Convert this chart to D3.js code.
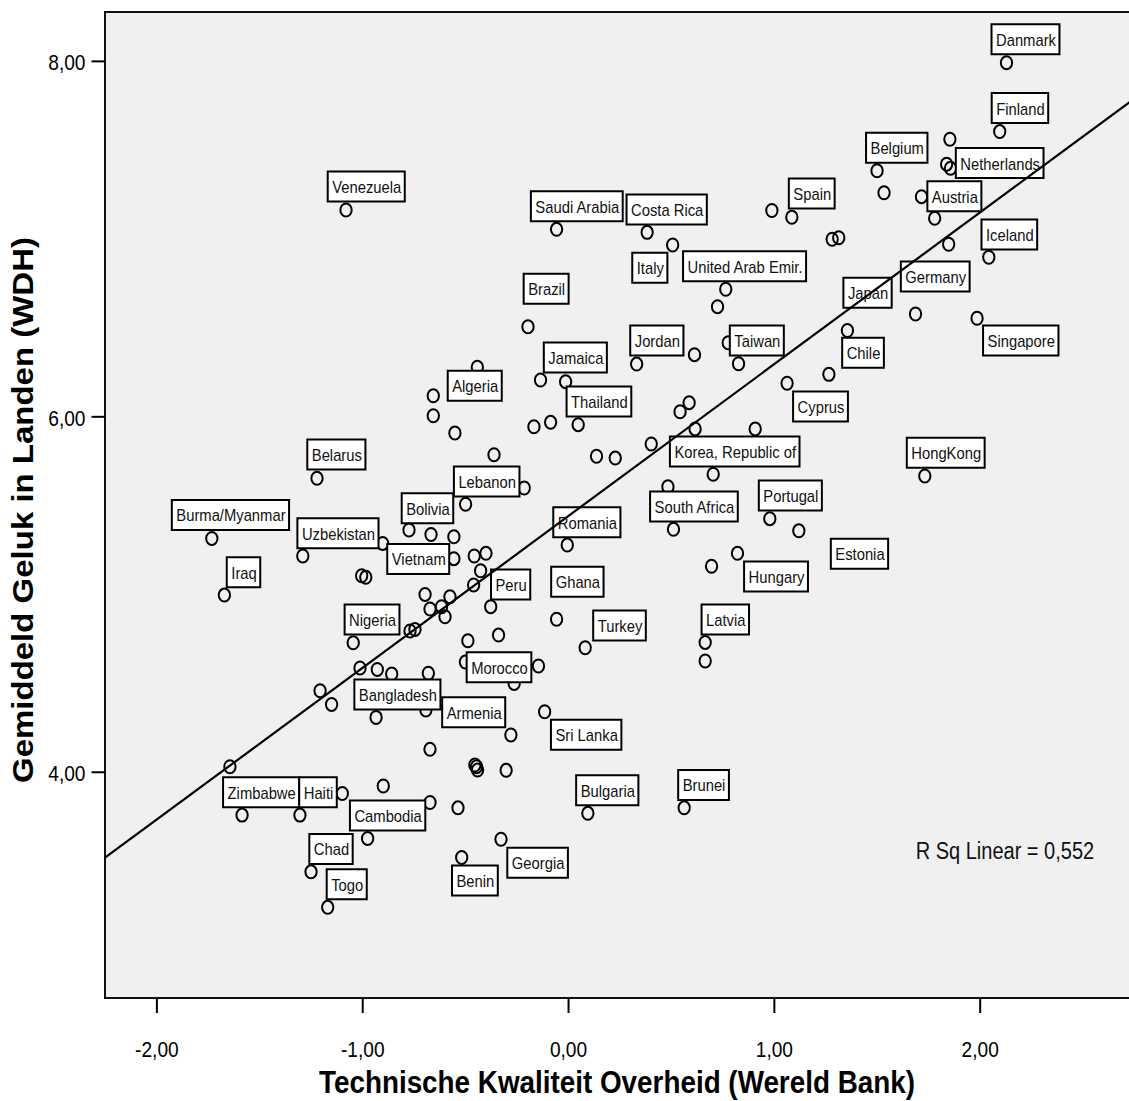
<!DOCTYPE html>
<html>
<head>
<meta charset="utf-8">
<script src="https://cdn.jsdelivr.net/npm/d3@7"></script>
<style>
  body { margin: 0; background: #fff; }
</style>
</head>
<body>
<div id="chart"></div>
<script>
// labelled countries (names as printed in the chart)
var labelNames = ["Danmark", "Finland", "Belgium", "Netherlands", "Austria", "Spain", "Iceland", "Germany",
    "Japan", "Singapore", "Chile", "Cyprus", "HongKong", "Korea, Republic of", "Portugal", "Estonia",
    "Hungary", "South Africa", "Latvia", "Brunei", "Bulgaria", "Sri Lanka", "Georgia", "Benin",
    "Armenia", "Morocco", "Peru", "Ghana", "Turkey", "Romania", "Lebanon", "Bolivia", "Vietnam",
    "Uzbekistan", "Burma/Myanmar", "Belarus", "Iraq", "Nigeria", "Bangladesh", "Zimbabwe", "Haiti",
    "Cambodia", "Chad", "Togo", "Venezuela", "Saudi Arabia", "Costa Rica", "Italy", "United Arab Emir.",
    "Brazil", "Jordan", "Taiwan", "Jamaica", "Thailand", "Algeria"];
var labelGov = [2.130, 2.097, 1.501, 1.858, 1.781, 1.087, 2.044, 1.688,
    1.357, 1.987, 1.267, 1.064, 1.733, 0.705, 0.980, 1.121,
    0.823, 0.512, 0.666, 0.564, 0.096, -0.114, -0.326, -0.517,
    -0.278, -0.144, -0.376, -0.056, 0.083, -0.004, -0.498, -0.773, -0.901,
    -1.289, -1.731, -1.220, -1.670, -1.044, -0.933, -1.584, -1.303,
    -0.974, -1.249, -1.168, -1.079, -0.056, 0.384, 0.508, 0.766,
    -0.195, 0.333, 0.828, -0.134, 0.049, -0.441];
var labelHappy = [7.99, 7.602, 7.382, 7.396, 7.114, 7.120, 6.895, 6.576,
    6.483, 6.552, 6.236, 6.186, 5.664, 5.674, 5.424, 5.356,
    5.229, 5.364, 4.728, 3.797, 3.766, 4.338, 3.620, 3.518,
    4.207, 4.595, 4.929, 4.858, 4.698, 5.276, 5.505, 5.360, 5.285,
    5.214, 5.313, 5.651, 4.994, 4.726, 4.306, 3.756, 3.756,
    3.625, 3.437, 3.237, 7.161, 7.052, 7.035, 6.964, 6.715,
    6.504, 6.294, 6.296, 6.204, 5.953, 6.276];

// countries without a label
var otherGov = [1.839, 1.855, 1.535, 1.717, 0.990, 1.283, 1.315, 1.849, 0.614, 0.778, 0.726, -0.012,
    -0.655, -0.655, -0.166, -0.085, -0.550, 0.544, 0.588, 0.617, 0.909, 0.404, -0.360, 0.138,
    0.229, -0.213, 0.485, -0.666, -0.555, -0.555, -0.456, -0.399, -0.425, -0.459, -0.574, -0.615,
    -0.598, -0.671, -0.695, -0.487, -0.338, -0.499, -0.262, -0.453, -0.440, -0.445, -0.301, -0.671,
    -0.535, 0.697, 0.666, -0.744, -1.003, -0.983, -0.768, -0.744, -1.011, -0.927, -0.857, -0.679,
    -1.205, -1.149, -0.691, -0.671, -1.643, -0.898, -1.097];
var otherHappy = [7.419, 7.559, 7.258, 7.236, 7.158, 6.996, 7.005, 6.968, 6.347, 6.414, 6.617, 6.195,
    6.116, 6.003, 5.941, 5.966, 5.906, 6.026, 6.077, 5.929, 5.929, 5.844, 5.784, 5.775,
    5.765, 5.597, 5.604, 5.335, 5.322, 5.199, 5.214, 5.229, 5.131, 5.051, 4.985, 4.929,
    4.872, 4.916, 4.998, 4.737, 4.769, 4.617, 4.497, 4.038, 4.010, 4.028, 4.008, 3.827,
    3.797, 5.156, 4.623, 5.444, 5.103, 5.094, 4.792, 4.801, 4.584, 4.576, 4.550, 4.554,
    4.456, 4.379, 4.347, 4.126, 4.028, 3.920, 3.878];

// linear fit as drawn
var fitIntercept = 5.438, fitSlope = 0.854;
var rSqText = "R Sq Linear = 0,552";

var xTicks = [-2, -1, 0, 1, 2];
var yTicks = [4, 6, 8];
var xDomain = [-2.25, 2.73];
var yDomain = [2.727, 8.275];
var xTitle = "Technische Kwaliteit Overheid (Wereld Bank)";
var yTitle = "Gemiddeld Geluk in Landen (WDH)";

// where each label box sits relative to its point (left, top in px)
var labelOffsets = {
    "Danmark": [-15, -39], "Finland": [-8, -39], "Belgium": [-11, -38.4], "Netherlands": [5.3, -20.6],
    "Austria": [-7.3, -37.6], "Spain": [-3, -39.3], "Iceland": [-7.3, -38.3], "Germany": [-14.7, -53],
    "Japan": [-4, -53.2], "Singapore": [6, 6.7], "Chile": [13.3, -37], "Cyprus": [6, 7.7],
    "HongKong": [-18, -38.7], "Korea, Republic of": [-43.3, -38.3], "Portugal": [-11, -38.6],
    "Estonia": [32, 7.6], "Hungary": [6.6, 7.7], "South Africa": [-23.4, -38.3], "Latvia": [-3.6, -38.3],
    "Brunei": [-6, -38.4], "Bulgaria": [-11.7, -38.6], "Sri Lanka": [6.3, 7.6], "Georgia": [6.3, 8],
    "Benin": [-9.7, 7.7], "Armenia": [-68.7, -38.3], "Morocco": [-71.8, -14.3], "Peru": [0.3, -37.7],
    "Ghana": [-5.4, -53], "Turkey": [8, -37.7], "Romania": [-14, -38.3], "Lebanon": [-11.7, -38.3],
    "Bolivia": [-7.3, -37.3], "Vietnam": [4.6, 0], "Uzbekistan": [-5.4, -38.3], "Burma/Myanmar": [-40, -39],
    "Belarus": [-9.7, -39.3], "Iraq": [2.4, -38.3], "Nigeria": [-8.6, -38.7], "Bangladesh": [-21.7, -38.3],
    "Zimbabwe": [-19, -38.3], "Haiti": [-0.7, -38.3], "Cambodia": [-17.7, -38.3], "Chad": [-1.7, -38.4],
    "Togo": [-1, -38.6], "Venezuela": [-18.3, -39], "Saudi Arabia": [-25.7, -38.6], "Costa Rica": [-20.6, -38.3],
    "Italy": [-40.4, 7.3], "United Arab Emir.": [-42.7, -38.6], "Brazil": [-4.3, -53.4], "Jordan": [-6.4, -39],
    "Taiwan": [-8.7, -38.7], "Jamaica": [3.3, -38], "Thailand": [-11.6, -38.7], "Algeria": [-29.6, 3]
};

var FONT = "'Liberation Sans', Arial, Helvetica, sans-serif";
var W = 1129, H = 1101;
var k = 0.87; // the original picture is squeezed horizontally
var plot = {left: 105, right: 1130, top: 12, bottom: 998};

var svg = d3.select("#chart").append("svg")
    .attr("width", W)
    .attr("height", H);

var g = svg.append("g")
    .attr("transform", "scale(" + k + ",1)")
    .attr("font-family", FONT);

var x = d3.scaleLinear().domain(xDomain).range([plot.left / k, plot.right / k]),
    y = d3.scaleLinear().domain(yDomain).range([plot.bottom, plot.top]);

var fmt = d3.formatLocale({decimal: ",", thousands: ".", grouping: [3], currency: ["", ""], minus: "-"}).format(".2f");

var points = [];
labelNames.forEach(function (n, i) {
    points.push({name: n, x: labelGov[i], y: labelHappy[i]});
});
otherGov.forEach(function (v, i) {
    points.push({name: "", x: v, y: otherHappy[i]});
});

// plot background
g.append("rect")
    .attr("x", plot.left / k)
    .attr("y", plot.top)
    .attr("width", (plot.right - plot.left) / k)
    .attr("height", plot.bottom - plot.top)
    .attr("fill", "#f0f0f0")
    .attr("stroke", "#111")
    .attr("stroke-width", 2)
    .attr("vector-effect", "non-scaling-stroke");

// axes
var yAxis = g.append("g")
    .attr("transform", "translate(" + plot.left / k + ",0)")
    .call(d3.axisLeft(y).tickValues(yTicks).tickFormat(fmt).tickSize(13.5 / k).tickPadding(6 / k));
yAxis.select(".domain").remove();
yAxis.attr("font-family", FONT).attr("font-size", 22);
yAxis.selectAll("line").attr("stroke", "#000").attr("stroke-width", 2).attr("vector-effect", "non-scaling-stroke");
yAxis.selectAll("text").attr("fill", "#000").attr("dy", 9);

var xAxis = g.append("g")
    .attr("transform", "translate(0," + plot.bottom + ")")
    .call(d3.axisBottom(x).tickValues(xTicks).tickFormat(fmt).tickSize(15));
xAxis.select(".domain").remove();
xAxis.attr("font-family", FONT).attr("font-size", 22);
xAxis.selectAll("line").attr("stroke", "#000").attr("stroke-width", 2).attr("vector-effect", "non-scaling-stroke");
xAxis.selectAll("text").attr("fill", "#000").attr("y", 59).attr("dy", 0);

// points
g.append("g")
    .selectAll("circle")
    .data(points)
    .join("circle")
    .attr("cx", function (d) { return x(d.x); })
    .attr("cy", function (d) { return y(d.y); })
    .attr("r", 6.5)
    .attr("fill", "none")
    .attr("stroke", "#000")
    .attr("stroke-width", 2)
    .attr("vector-effect", "non-scaling-stroke");

// label boxes
var lab = g.append("g")
    .selectAll("g")
    .data(points.filter(function (d) { return d.name; }))
    .join("g")
    .attr("transform", function (d) {
        var o = labelOffsets[d.name];
        return "translate(" + (x(d.x) + o[0] / k) + "," + (y(d.y) + o[1]) + ")";
    });

lab.append("rect")
    .attr("x", 0)
    .attr("y", 0.5)
    .attr("height", 30)
    .attr("fill", "#fff")
    .attr("stroke", "#000")
    .attr("stroke-width", 2)
    .attr("vector-effect", "non-scaling-stroke");

lab.append("text")
    .attr("x", 4.5 / k)
    .attr("y", 22)
    .attr("font-size", 17)
    .attr("fill", "#111")
    .text(function (d) { return d.name; });

lab.each(function () {
    var w = d3.select(this).select("text").node().getComputedTextLength();
    d3.select(this).select("rect").attr("width", w + 8 / k);
});

// regression line
var fit = xDomain.map(function (v) { return [v, fitIntercept + fitSlope * v]; });
g.append("path")
    .datum(fit)
    .attr("d", d3.line().x(function (d) { return x(d[0]); }).y(function (d) { return y(d[1]); }))
    .attr("fill", "none")
    .attr("stroke", "#000")
    .attr("stroke-width", 2.2)
    .attr("vector-effect", "non-scaling-stroke");

g.append("text")
    .attr("x", 915.7 / k)
    .attr("y", 859)
    .attr("font-size", 23)
    .attr("fill", "#111")
    .text(rSqText);

// axis titles
g.append("text")
    .attr("x", 617 / k)
    .attr("y", 1093)
    .attr("text-anchor", "middle")
    .attr("font-size", 32)
    .attr("font-weight", "bold")
    .attr("fill", "#000")
    .text(xTitle);

g.append("text")
    .attr("transform", "translate(" + 33 / k + ",510)rotate(-90)")
    .attr("text-anchor", "middle")
    .attr("font-size", 33)
    .attr("font-weight", "bold")
    .attr("fill", "#000")
    .text(yTitle);
</script>
</body>
</html>
